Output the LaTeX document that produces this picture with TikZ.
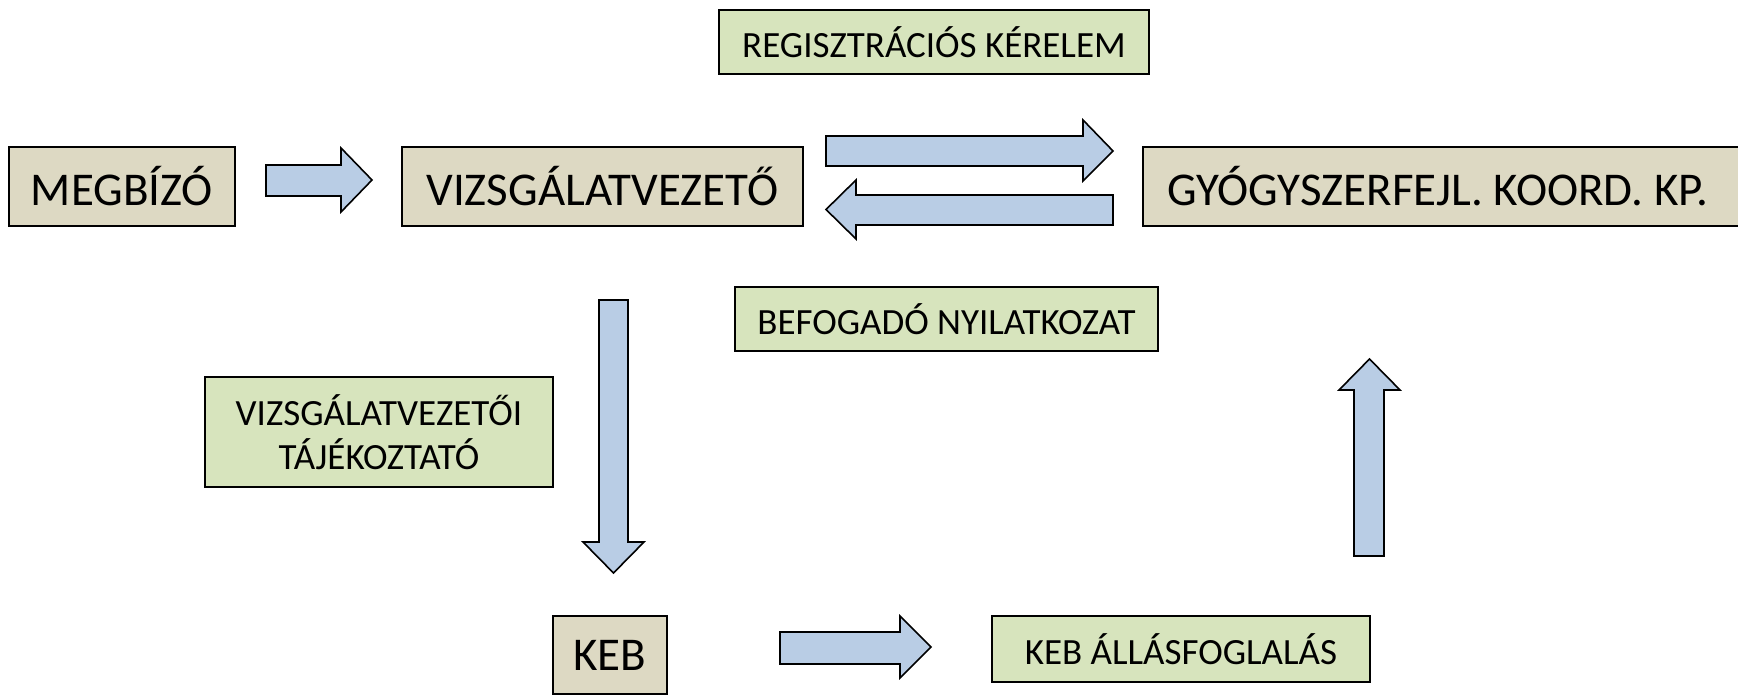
\documentclass[tikz,border=0pt]{standalone}
\usepackage{fontspec}
\setmainfont{Carlito}
\usetikzlibrary{positioning}

\definecolor{boxtan}{HTML}{DDD9C3}
\definecolor{notegreen}{HTML}{D7E4BD}
\definecolor{arrowblue}{HTML}{B9CDE5}

\begin{document}
\frenchspacing
\begin{tikzpicture}
  [
    x=0.5pt, y=-0.5pt,
    box/.style =
      {draw, line width=0.65pt, fill=boxtan, minimum height=39.5pt,
       inner sep=0pt, outer sep=0pt, font=\fontsize{23.5}{28}\selectfont},
    note/.style =
      {draw, line width=0.65pt, fill=notegreen, inner sep=0pt, outer sep=0pt,
       align=center, font=\fontsize{18.5}{22}\selectfont},
    barrow/.style={draw, line width=0.8pt, fill=arrowblue, line join=miter}
  ]
  \useasboundingbox (0,0) rectangle (1738,695);

  \node [box, minimum width=113pt] at (122, 186.5) (megbizo) {MEGBÍZÓ};
  \node [box, minimum width=200.5pt] at (602.5, 186.5) (vezeto) {VIZSGÁLATVEZETŐ};
  \node [box, minimum width=299pt] at (1442, 186.5) (koord)
    {GYÓGYSZERFEJL. KOORD. KP.\hspace*{4pt}};
  \node [box, minimum width=57pt, minimum height=39pt] at (610, 655) (keb) {KEB};

  \node [note, minimum width=215pt, minimum height=32pt] at (934, 42) (kerelem)
    {REGISZTRÁCIÓS KÉRELEM};
  \node [note, minimum width=211.5pt, minimum height=32pt] at (946.5, 319) (befogado)
    {BEFOGADÓ NYILATKOZAT};
  \node [note, minimum width=174pt, minimum height=55pt] at (379, 432) (tajekoztato)
    {VIZSGÁLATVEZETŐI\\TÁJÉKOZTATÓ};
  \node [note, minimum width=189pt, minimum height=33pt] at (1181, 649) (allasfogl)
    {KEB ÁLLÁSFOGLALÁS};

  % block arrows
  \draw [barrow] (266,165) -- (341,165) -- (341,148) -- (372,180)
    -- (341,212) -- (341,196) -- (266,196) -- cycle;
  \draw [barrow] (826,136) -- (1083,136) -- (1083,120) -- (1113,151)
    -- (1083,181) -- (1083,166) -- (826,166) -- cycle;
  \draw [barrow] (1113,195) -- (856,195) -- (856,180) -- (826,209.5)
    -- (856,239) -- (856,225) -- (1113,225) -- cycle;
  \draw [barrow] (599,300) -- (599,542) -- (583,542) -- (613.5,573)
    -- (644,542) -- (628,542) -- (628,300) -- cycle;
  \draw [barrow] (780,632) -- (900,632) -- (900,616) -- (931,647)
    -- (900,678) -- (900,664) -- (780,664) -- cycle;
  \draw [barrow] (1354,556) -- (1354,390) -- (1339,390) -- (1369.5,359)
    -- (1400,390) -- (1384,390) -- (1384,556) -- cycle;

\end{tikzpicture}
\end{document}
